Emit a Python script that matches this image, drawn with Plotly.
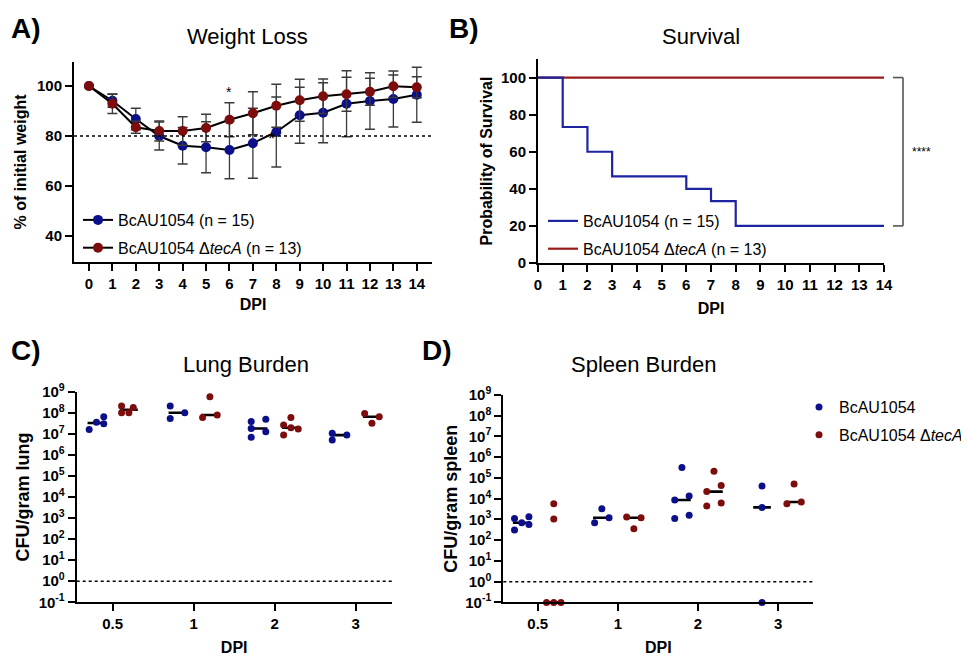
import numpy as np
import plotly.graph_objects as go

FONT = "Liberation Sans, Arial, sans-serif"
BLUE = "#0c0f8a"
RED = "#7d0c0c"
BLUE_LINE = "#1c24a0"
RED_LINE = "#9a1b1b"
ERR = "#3a3a3a"

# ---------------- Panel A: weight loss ----------------
dpi = list(range(15))
wt_wt_mean = [100, 94.1, 86.8, 80.0, 76.1, 75.5, 74.4, 77.1, 81.6, 88.3, 89.3, 92.9, 94.0, 94.8, 96.5]
wt_wt_sd = [0, 2.6, 4.3, 5.6, 7.3, 10.2, 11.5, 14.0, 14.0, 11.2, 12.0, 13.2, 11.3, 11.2, 11.0]
wt_tec_mean = [100, 92.9, 83.5, 82.0, 82.0, 83.2, 86.5, 89.1, 92.1, 94.3, 95.9, 96.7, 97.7, 99.9, 99.5]
wt_tec_sd = [0, 3.9, 2.4, 4.0, 5.7, 5.5, 6.8, 8.6, 8.6, 8.4, 6.9, 6.8, 5.4, 4.5, 4.2]
weight_threshold = 80

# ---------------- Panel B: survival ----------------
surv_wt_day = [0, 1, 2, 3, 6, 7, 8, 14]
surv_wt_pct = [100, 73.33, 60.0, 46.67, 40.0, 33.33, 20.0, 20.0]
surv_tec_day = [0, 14]
surv_tec_pct = [100, 100]

# ---------------- Panels C/D: bacterial burden ----------------
burden_cats = ["0.5", "1", "2", "3"]
lod = 1.0
# lung CFU/g per timepoint
lung_wt = [[1.6e7, 3.5e7, 6.5e7, 3.0e7],
           [2.1e8, 5.4e7, 1.0e8],
           [3.8e7, 1.8e7, 6.8e6, 4.9e7, 1.26e7],
           [1.05e7, 5.1e6, 8.7e6]]
lung_tec = [[2.1e8, 1.0e8, 1.0e8, 1.8e8],
            [5.8e8, 6.0e7, 7.8e7],
            [2.6e7, 8.7e6, 6.0e7, 1.95e7, 1.7e7],
            [9.3e7, 3.2e7, 6.5e7]]
# beeswarm column of each point (-1 left, 0 centre, +1 right)
lung_wt_col = [[-1, 0, 1, 1], [-1, -1, 1], [-1, -1, -1, 1, 1], [-1, -1, 1]]
lung_tec_col = [[-1, -1, 0, 0.6], [0, -1, 1], [-1, -1, 0, 0, 1], [-1, 0, 1]]

spleen_wt = [[1.1e3, 310, 690, 1.35e3, 575],
             [690, 3.3e3, 1.2e3],
             [8.7e3, 1.1e3, 3.2e5, 1.35e4, 1.6e3],
             [4.1e4, 3.8e3, 0.1]]
spleen_tec = [[5.75e3, 1.05e3, 0.1, 0.1, 0.1],
              [1.3e3, 355, 1.2e3],
              [2.2e4, 4.5e3, 2.1e5, 4.3e4, 6.2e3],
              [5.75e3, 5.1e4, 6.9e3]]
spleen_wt_col = [[-1, -1, 0, 1, 1], [-1, 0, 1], [-1, -1, 0, 1, 1], [0, 0, 0]]
spleen_tec_col = [[0, 0, -1, 0, 1], [-1, 0, 1], [-1, -1, 0, 1, 1], [-1, 0, 1]]

# The page body has an 8px margin, so the figure is drawn 8px in from the corner.
PAGE = 8
W, H = 969 - PAGE, 656 - PAGE


def PX(x):
    return (x - PAGE) / W


def PY(y):
    return 1 - (y - PAGE) / H


fig = go.Figure()

# ---- A ----
fig.add_trace(go.Scatter(
    x=dpi, y=wt_wt_mean, mode="lines+markers", name="BcAU1054 (n = 15)",
    line=dict(color="black", width=2), marker=dict(color=BLUE, size=10),
    error_y=dict(type="data", array=wt_wt_sd, color=ERR, thickness=1.3, width=5),
    xaxis="x", yaxis="y", legend="legend", legendgroup="a1"))
fig.add_trace(go.Scatter(
    x=dpi, y=wt_tec_mean, mode="lines+markers", name="BcAU1054 Δ<i>tecA</i> (n = 13)",
    line=dict(color="black", width=2), marker=dict(color=RED, size=10),
    error_y=dict(type="data", array=wt_tec_sd, color=ERR, thickness=1.3, width=5),
    xaxis="x", yaxis="y", legend="legend", legendgroup="a2"))

# ---- B ----
fig.add_trace(go.Scatter(
    x=surv_tec_day, y=surv_tec_pct, mode="lines", line_shape="hv",
    name="BcAU1054 Δ<i>tecA</i> (n = 13)", line=dict(color=RED_LINE, width=2.2),
    xaxis="x2", yaxis="y2", legend="legend2", legendgroup="b2", legendrank=2))
fig.add_trace(go.Scatter(
    x=surv_wt_day, y=surv_wt_pct, mode="lines", line_shape="hv",
    name="BcAU1054 (n = 15)", line=dict(color=BLUE_LINE, width=2.2),
    xaxis="x2", yaxis="y2", legend="legend2", legendgroup="b1", legendrank=1))

# ---- C / D ----
GROUP_OFF = 0.2
STEP = 0.09
HALF = 0.11


def add_burden(data, cols, color, name, off, xa, ya, showlegend, grp):
    for i, vals in enumerate(data):
        centre = i + off
        med = float(np.median(vals))
        fig.add_trace(go.Scatter(
            x=[centre - HALF, centre + HALF], y=[med, med], mode="lines",
            line=dict(color="black", width=2.6), showlegend=False,
            hoverinfo="skip", xaxis=xa, yaxis=ya, cliponaxis=False))
    xs, ys = [], []
    for i, (vals, cc) in enumerate(zip(data, cols)):
        for v, c in zip(vals, cc):
            xs.append(i + off + c * STEP)
            ys.append(v)
    fig.add_trace(go.Scatter(
        x=xs, y=ys, mode="markers", name=name, marker=dict(color=color, size=7),
        showlegend=showlegend, xaxis=xa, yaxis=ya, cliponaxis=False,
        legend="legend3", legendgroup=grp))


add_burden(lung_wt, lung_wt_col, BLUE, "BcAU1054", -GROUP_OFF, "x3", "y3", False, "d1")
add_burden(lung_tec, lung_tec_col, RED, "BcAU1054 Δ<i>tecA</i>", GROUP_OFF, "x3", "y3", False, "d2")
add_burden(spleen_wt, spleen_wt_col, BLUE, "BcAU1054", -GROUP_OFF, "x4", "y4", True, "d1")
add_burden(spleen_tec, spleen_tec_col, RED, "BcAU1054 Δ<i>tecA</i>", GROUP_OFF, "x4", "y4", True, "d2")


# ---------------- axes ----------------
def ax(**kw):
    base = dict(showline=True, linecolor="black", linewidth=2, ticks="outside",
                ticklen=7, tickwidth=2, tickcolor="black", showgrid=False,
                zeroline=False, automargin=False,
                tickfont=dict(family=FONT, size=15, color="black", weight="bold"))
    base.update(kw)
    return base


def ttl(text, size=16, standoff=None):
    d = dict(text=text, font=dict(family=FONT, size=size, color="black", weight="bold"))
    if standoff is not None:
        d["standoff"] = standoff
    return d


def xdom(a, b):
    return [PX(a), PX(b)]


def ydom(top, bottom):
    return [PY(bottom), PY(top)]


log_ticks = [10.0 ** k for k in range(-1, 10)]
log_text = ["10<sup>%d</sup>" % k for k in range(-1, 10)]

fig.update_layout(
    xaxis=ax(domain=xdom(74, 432), range=[-0.64, 14.65], tickvals=dpi,
             title=ttl("DPI", standoff=8), anchor="y"),
    yaxis=ax(domain=ydom(62, 262), range=[29.6, 109.6], tickvals=[40, 60, 80, 100],
             title=ttl("% of initial weight", standoff=6), anchor="x"),
    xaxis2=ax(domain=xdom(538, 884), range=[0, 14], tickvals=list(range(15)),
              title=ttl("DPI", standoff=11), anchor="y2"),
    yaxis2=ax(domain=ydom(59, 263), range=[0, 110], tickvals=[0, 20, 40, 60, 80, 100],
              title=ttl("Probability of Survival", standoff=4), anchor="x2"),
    xaxis3=ax(domain=xdom(76.7, 391.7), range=[-0.444, 3.444], tickvals=[0, 1, 2, 3],
              ticktext=burden_cats, title=ttl("DPI", standoff=14), anchor="y3"),
    yaxis3=ax(domain=ydom(391.7, 602.3), type="log", range=[-1, 9],
              tickvals=log_ticks, ticktext=log_text,
              title=ttl("CFU/gram lung", size=18, standoff=4), anchor="x3"),
    xaxis4=ax(domain=xdom(503.3, 813.3), range=[-0.43, 3.44], tickvals=[0, 1, 2, 3],
              ticktext=burden_cats, title=ttl("DPI", standoff=14), anchor="y4"),
    yaxis4=ax(domain=ydom(395, 602.4), type="log", range=[-1, 9],
              tickvals=log_ticks, ticktext=log_text,
              title=ttl("CFU/gram spleen", size=18, standoff=3), anchor="x4"),
)

# reference lines
shapes = [
    dict(type="line", xref="x domain", yref="y", x0=0, x1=1, y0=weight_threshold, y1=weight_threshold,
         line=dict(color="black", width=1.5, dash="dot")),
    dict(type="line", xref="x3 domain", yref="y3", x0=0, x1=1, y0=lod, y1=lod,
         line=dict(color="black", width=1.5, dash="dot")),
    dict(type="line", xref="x4 domain", yref="y4", x0=0, x1=1, y0=lod, y1=lod,
         line=dict(color="black", width=1.5, dash="dot")),
]
# significance bracket for survival
bx0, bx1 = PX(893), PX(903)
top, bot = surv_tec_pct[-1], surv_wt_pct[-1]
for (xa, ya, xb, yb) in [(bx0, top, bx1, top), (bx1, top, bx1, bot), (bx0, bot, bx1, bot)]:
    shapes.append(dict(type="line", xref="paper", yref="y2", x0=xa, x1=xb, y0=ya, y1=yb,
                       line=dict(color="#555555", width=1.6)))
fig.update_layout(shapes=shapes)


def label(txt, x, y):
    return dict(text="<b>%s</b>" % txt, x=PX(x), y=PY(y), xref="paper", yref="paper",
                xanchor="left", yanchor="middle", showarrow=False,
                font=dict(family=FONT, size=28, color="black"))


def title(txt, x, y):
    return dict(text=txt, x=PX(x), y=PY(y), xref="paper", yref="paper",
                xanchor="center", yanchor="middle", showarrow=False,
                font=dict(family=FONT, size=22, color="black"))


annotations = [
    label("A)", 9, 28), label("B)", 447, 28), label("C)", 9, 350), label("D)", 420, 350),
    title("Weight Loss", 247, 37), title("Survival", 701, 37),
    title("Lung Burden", 246, 364), title("Spleen Burden", 644, 364),
    dict(text="*", x=6, y=97.5, xref="x", yref="y", showarrow=False, xanchor="center",
         font=dict(family=FONT, size=14, color="black")),
    dict(text="*", x=7.8, y=79.0, xref="x", yref="y", showarrow=False, xanchor="center",
         font=dict(family=FONT, size=18, color="black")),
    dict(text="****", x=PX(921), y=(top + bot) / 2, xref="paper", yref="y2", showarrow=False,
         xanchor="center", yanchor="middle", font=dict(family=FONT, size=12, color="black")),
]
fig.update_layout(annotations=annotations)

leg_font = dict(family=FONT, size=16, color="black")
fig.update_layout(
    legend=dict(x=PX(78), y=PY(203), xanchor="left", yanchor="top", font=leg_font,
                bgcolor="rgba(0,0,0,0)", traceorder="grouped", tracegroupgap=4),
    legend2=dict(x=PX(543), y=PY(204), xanchor="left", yanchor="top", font=leg_font,
                 bgcolor="rgba(0,0,0,0)", traceorder="grouped", tracegroupgap=4),
    legend3=dict(x=PX(799), y=PY(390), xanchor="left", yanchor="top", font=leg_font,
                 bgcolor="rgba(0,0,0,0)", traceorder="grouped", tracegroupgap=4),
    width=W, height=H, margin=dict(l=0, r=0, t=0, b=0),
    plot_bgcolor="white", paper_bgcolor="white",
    font=dict(family=FONT, color="black"),
)

fig.write_html("out.html")
